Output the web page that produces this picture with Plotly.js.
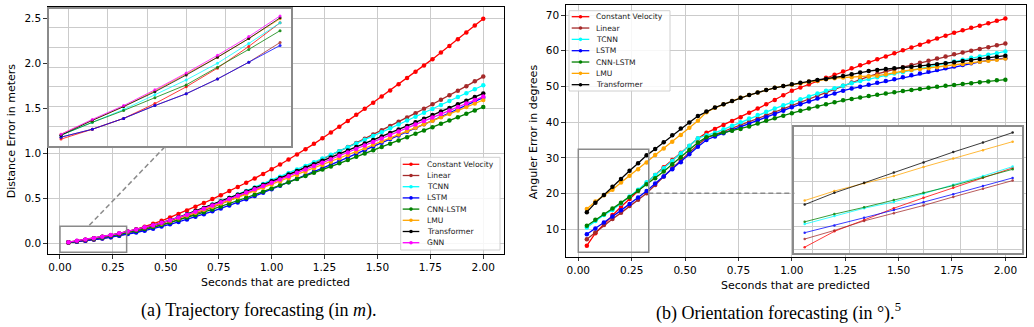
<!DOCTYPE html>
<html>
<head>
<meta charset="utf-8">
<script src="https://cdn.plot.ly/plotly-3.0.1.min.js"></script>
<style>html,body{margin:0;padding:0;background:#fff;}</style>
</head>
<body>
<div id="chart" style="width:1034px;height:327px;"></div>
<script>
// ---------------- data ----------------
const seconds = [0.04,0.08,0.12,0.16,0.20,0.24,0.28,0.32,0.36,0.40,
  0.44,0.48,0.52,0.56,0.60,0.64,0.68,0.72,0.76,0.80,
  0.84,0.88,0.92,0.96,1.00,1.04,1.08,1.12,1.16,1.20,
  1.24,1.28,1.32,1.36,1.40,1.44,1.48,1.52,1.56,1.60,
  1.64,1.68,1.72,1.76,1.80,1.84,1.88,1.92,1.96,2.00];
const insetPoints = 8; // the zoomed insets show the first 8 prediction steps

const trajNames = ['Constant Velocity','Linear','TCNN','LSTM','CNN-LSTM','LMU','Transformer','GNN'];
const orientNames = ['Constant Velocity','Linear','TCNN','LSTM','CNN-LSTM','LMU','Transformer'];
const seriesColors = ['#ff0000','#a52a2a','#00ffff','#0000ff','#008000','#ffa500','#000000','#ff00ff'];

// (a) distance error in meters
const trajCV = [0.007,0.017,0.028,0.043,0.060,0.079,0.101,0.125,0.154,0.184,
  0.216,0.250,0.287,0.325,0.365,0.406,0.448,0.491,0.535,0.580,
  0.626,0.673,0.721,0.771,0.822,0.876,0.931,0.987,1.045,1.105,
  1.167,1.230,1.294,1.360,1.427,1.494,1.562,1.630,1.698,1.767,
  1.836,1.905,1.975,2.046,2.119,2.193,2.268,2.343,2.419,2.496];
const trajLinear = [0.009,0.017,0.028,0.041,0.053,0.068,0.085,0.105,0.126,0.149,
  0.174,0.201,0.230,0.261,0.294,0.328,0.363,0.399,0.436,0.474,
  0.513,0.553,0.593,0.634,0.676,0.718,0.760,0.803,0.846,0.890,
  0.934,0.979,1.024,1.069,1.115,1.161,1.208,1.255,1.302,1.350,
  1.398,1.446,1.495,1.544,1.594,1.644,1.695,1.746,1.799,1.852];
const trajTCNN = [0.011,0.024,0.037,0.052,0.067,0.084,0.104,0.125,0.148,0.172,
  0.198,0.226,0.256,0.288,0.322,0.357,0.393,0.430,0.467,0.505,
  0.543,0.582,0.621,0.660,0.700,0.740,0.780,0.820,0.860,0.901,
  0.942,0.983,1.024,1.066,1.108,1.150,1.192,1.234,1.277,1.320,
  1.363,1.406,1.449,1.492,1.536,1.580,1.624,1.668,1.712,1.756];
const trajLSTM = [0.009,0.017,0.028,0.041,0.053,0.068,0.085,0.102,0.120,0.140,
  0.162,0.186,0.211,0.237,0.265,0.294,0.324,0.355,0.387,0.420,
  0.454,0.489,0.525,0.562,0.600,0.639,0.678,0.717,0.756,0.795,
  0.834,0.874,0.914,0.954,0.994,1.035,1.076,1.117,1.158,1.199,
  1.240,1.281,1.322,1.364,1.406,1.448,1.490,1.532,1.575,1.618];
const trajCNNLSTM = [0.011,0.024,0.036,0.049,0.062,0.080,0.098,0.117,0.137,0.158,
  0.181,0.205,0.231,0.258,0.286,0.315,0.345,0.376,0.408,0.440,
  0.473,0.506,0.540,0.574,0.609,0.644,0.679,0.714,0.749,0.784,
  0.819,0.854,0.889,0.925,0.961,0.997,1.033,1.069,1.105,1.142,
  1.179,1.216,1.253,1.290,1.327,1.364,1.401,1.438,1.476,1.514];
const trajLMU = [0.012,0.026,0.040,0.056,0.073,0.090,0.109,0.129,0.150,0.172,
  0.196,0.221,0.248,0.277,0.308,0.340,0.373,0.407,0.441,0.476,
  0.511,0.547,0.583,0.618,0.652,0.688,0.724,0.760,0.796,0.833,
  0.870,0.907,0.944,0.981,1.018,1.056,1.094,1.133,1.171,1.209,
  1.247,1.285,1.323,1.361,1.399,1.437,1.475,1.514,1.553,1.592];
const trajTransformer = [0.011,0.026,0.040,0.055,0.072,0.090,0.109,0.130,0.152,0.175,
  0.200,0.227,0.256,0.289,0.323,0.358,0.393,0.429,0.465,0.502,
  0.539,0.576,0.613,0.650,0.688,0.726,0.764,0.802,0.840,0.878,
  0.916,0.954,0.993,1.031,1.070,1.109,1.148,1.187,1.226,1.265,
  1.304,1.344,1.384,1.424,1.464,1.504,1.544,1.584,1.624,1.665];
const trajGNN = [0.012,0.027,0.041,0.057,0.074,0.092,0.111,0.132,0.154,0.177,
  0.201,0.227,0.255,0.286,0.318,0.351,0.385,0.420,0.455,0.491,
  0.527,0.563,0.600,0.636,0.672,0.709,0.746,0.783,0.820,0.858,
  0.896,0.934,0.972,1.010,1.048,1.087,1.125,1.164,1.203,1.241,
  1.280,1.319,1.358,1.397,1.436,1.475,1.514,1.553,1.592,1.630];

// (b) angular error in degrees
const orientCV = [5.4,8.9,11.4,14.0,16.3,18.5,20.8,22.9,25.2,27.4,
  29.4,31.4,33.3,35.4,37.0,38.1,39.2,40.3,41.4,42.6,
  43.8,45.0,46.2,47.5,48.8,49.7,50.6,51.5,52.4,53.3,
  54.2,55.1,55.9,56.8,57.6,58.4,59.3,60.1,60.9,61.7,
  62.6,63.4,64.2,65.0,65.7,66.4,67.0,67.7,68.4,69.0];
const orientLinear = [7.2,9.1,11.2,12.9,14.6,16.5,18.3,20.1,22.4,24.8,
  27.1,29.3,31.5,33.7,35.6,36.5,37.4,38.3,39.2,40.1,
  41.0,41.9,42.8,43.8,44.8,45.7,46.6,47.5,48.4,49.3,
  50.2,51.1,52.0,52.8,53.5,54.2,54.8,55.4,56.0,56.6,
  57.2,57.8,58.4,59.0,59.5,60.0,60.5,61.0,61.5,62.0];
const orientTCNN = [10.5,12.3,14.0,15.4,17.2,19.2,21.1,23.2,25.2,27.1,
  29.1,31.3,33.4,35.5,36.3,37.0,38.0,39.0,40.0,41.0,
  42.0,42.9,43.8,44.7,45.6,46.4,47.2,48.0,48.8,49.5,
  50.2,50.9,51.5,52.1,52.6,53.1,53.6,54.0,54.5,55.0,
  55.5,56.0,56.5,57.0,57.5,58.0,58.4,58.9,59.3,59.8];
const orientLSTM = [8.6,10.2,11.9,13.6,15.3,17.1,18.9,20.7,22.8,24.8,
  26.8,28.8,31.0,33.1,35.0,36.0,36.9,37.7,38.5,39.5,
  40.5,41.4,42.3,43.2,44.2,45.0,45.8,46.6,47.3,48.0,
  48.8,49.4,49.9,50.5,51.0,51.5,52.0,52.6,53.1,53.6,
  54.1,54.6,55.1,55.6,56.0,56.5,56.9,57.3,57.6,57.9];
const orientCNNLSTM = [11.0,12.7,14.2,15.8,17.4,19.0,20.8,22.6,24.3,26.2,
  28.2,30.2,32.2,34.3,35.8,36.5,37.1,37.6,38.1,38.8,
  39.6,40.4,41.1,41.8,42.5,43.2,43.8,44.4,45.0,45.6,
  46.1,46.5,46.9,47.3,47.7,48.0,48.4,48.7,49.0,49.3,
  49.6,49.9,50.2,50.4,50.7,50.9,51.2,51.4,51.7,51.9];
const orientLMU = [15.7,17.8,19.5,21.1,23.1,25.0,26.8,28.7,30.8,32.6,
  34.5,36.4,38.4,40.4,42.8,44.0,45.0,45.9,46.8,47.6,
  48.3,49.0,49.6,50.1,50.5,50.9,51.3,51.6,52.0,52.3,
  52.5,52.6,52.7,52.8,53.0,53.4,53.9,54.3,54.6,54.9,
  55.1,55.4,55.7,56.0,56.3,56.6,56.9,57.2,57.5,57.8];
const orientTransformer = [14.8,17.4,19.6,21.9,24.1,26.4,28.5,30.7,32.5,34.4,
  36.3,38.2,39.9,41.7,43.0,44.1,45.0,45.9,46.8,47.6,
  48.3,49.0,49.6,50.1,50.6,51.0,51.4,51.8,52.1,52.5,
  52.9,53.4,53.9,54.3,54.6,54.9,55.1,55.3,55.5,55.7,
  55.9,56.2,56.5,56.8,57.1,57.4,57.7,58.0,58.3,58.6];

const secondTicks = [0,0.25,0.5,0.75,1.0,1.25,1.5,1.75,2.0];
const secondTickLabels = ['0.00','0.25','0.50','0.75','1.00','1.25','1.50','1.75','2.00'];
const distTicks = [0,0.5,1.0,1.5,2.0,2.5];
const distTickLabels = ['0.0','0.5','1.0','1.5','2.0','2.5'];
const angleTicks = [10,20,30,40,50,60,70];
const angleTickLabels = ['10','20','30','40','50','60','70'];

const trajSeries = [trajCV,trajLinear,trajTCNN,trajLSTM,trajCNNLSTM,trajLMU,trajTransformer,trajGNN];
const orientSeries = [orientCV,orientLinear,orientTCNN,orientLSTM,orientCNNLSTM,orientLMU,orientTransformer];

// ---------------- layout helpers ----------------
const W = 1034, H = 327;
const px = v => v / W;
const py = v => 1 - v / H;
const FONT = 'DejaVu Sans';

function mk(xs, ys, i, names, xa, ya, lw, ms, op) {
  return {
    x: xs, y: ys, name: names[i], type: 'scatter', mode: 'lines+markers',
    xaxis: xa, yaxis: ya, opacity: op,
    line: {color: seriesColors[i], width: lw},
    marker: {color: seriesColors[i], size: ms, line: {width: 0}},
    showlegend: false, hoverinfo: 'skip', cliponaxis: true
  };
}

const traces = [];
const insetX = seconds.slice(0, insetPoints);
trajSeries.forEach((s, i) => traces.push(mk(seconds, s, i, trajNames, 'x', 'y', 1.3, 4.5, 1)));
orientSeries.forEach((s, i) => traces.push(mk(seconds, s, i, orientNames, 'x2', 'y2', 1.3, 4.5, 1)));
trajSeries.forEach((s, i) => traces.push(mk(insetX, s.slice(0, insetPoints), i, trajNames, 'x3', 'y3', 0.9, 3, 0.85)));
orientSeries.forEach((s, i) => traces.push(mk(insetX, s.slice(0, insetPoints), i, orientNames, 'x4', 'y4', 0.9, 2.5, 0.85)));

const mainAxis = {
  showline: true, mirror: true, linecolor: '#000', linewidth: 1,
  ticks: 'outside', ticklen: 3.5, tickwidth: 0.8, tickcolor: '#000',
  showgrid: true, gridcolor: '#cbcbcb', gridwidth: 1, zeroline: false,
  tickfont: {family: FONT, size: 10.5, color: '#000'}, tickmode: 'array'
};
const insetAxis = {
  showline: true, mirror: true, linecolor: '#8a8a8a', linewidth: 2,
  ticks: '', showticklabels: false, showgrid: true, gridcolor: '#cbcbcb',
  gridwidth: 1, zeroline: false, tickmode: 'linear', tick0: 0
};

const shapes = [];
const annotations = [];

// inset indicator rectangles and connectors
shapes.push({type: 'rect', xref: 'x', yref: 'y', x0: 0, x1: 0.315, y0: -0.1, y1: 0.19,
  line: {color: '#8a8a8a', width: 1.5}});
shapes.push({type: 'line', xref: 'paper', yref: 'paper', x0: px(89.3), y0: py(225.3), x1: px(165.7), y1: py(146),
  line: {color: '#8a8a8a', width: 1.5, dash: '5px,3px'}});
shapes.push({type: 'rect', xref: 'x2', yref: 'y2', x0: 0, x1: 0.33, y0: 3.6, y1: 32.4,
  line: {color: '#8a8a8a', width: 1.5}});
shapes.push({type: 'line', xref: 'paper', yref: 'paper', x0: px(648.3), y0: py(193.3), x1: px(794.3), y1: py(193.3),
  line: {color: '#8a8a8a', width: 1.5, dash: '5px,3px'}});

// legends drawn as layout items
function legend(names, box, lx0, lx1, tx, y0, dy) {
  shapes.push({type: 'rect', xref: 'paper', yref: 'paper', x0: px(box[0]), x1: px(box[1]), y0: py(box[3]), y1: py(box[2]),
    fillcolor: 'rgba(255,255,255,0.85)', line: {color: '#d0d0d0', width: 1}});
  names.forEach((n, i) => {
    const yc = y0 + i * dy;
    shapes.push({type: 'line', xref: 'paper', yref: 'paper', x0: px(lx0), x1: px(lx1), y0: py(yc), y1: py(yc),
      line: {color: seriesColors[i], width: 1.3}});
    const cx = (lx0 + lx1) / 2;
    shapes.push({type: 'circle', xref: 'paper', yref: 'paper', x0: px(cx - 1.8), x1: px(cx + 1.8), y0: py(yc + 1.8), y1: py(yc - 1.8),
      fillcolor: seriesColors[i], line: {width: 0}});
    annotations.push({xref: 'paper', yref: 'paper', x: px(tx), y: py(yc), xanchor: 'left', yanchor: 'middle',
      text: n, showarrow: false, font: {family: FONT, size: 7.6, color: '#222'}});
  });
}
legend(trajNames, [400.7, 500, 157.3, 250], 402.7, 419.3, 424.5, 164.3, 11.2);
legend(orientNames, [569, 670, 10.7, 91], 571.7, 589.3, 594, 16.7, 11.33);

// axis titles and captions
const ttl = {family: FONT, size: 11, color: '#000'};
annotations.push({xref: 'paper', yref: 'paper', x: px(11.7), y: py(130.5), text: 'Distance Error in meters',
  textangle: -90, showarrow: false, font: ttl, xanchor: 'center', yanchor: 'middle'});
annotations.push({xref: 'paper', yref: 'paper', x: px(275.5), y: py(282), text: 'Seconds that are predicted',
  showarrow: false, font: ttl, xanchor: 'center', yanchor: 'middle'});
annotations.push({xref: 'paper', yref: 'paper', x: px(533.3), y: py(132), text: 'Anguler Error in degrees',
  textangle: -90, showarrow: false, font: ttl, xanchor: 'center', yanchor: 'middle'});
annotations.push({xref: 'paper', yref: 'paper', x: px(795.8), y: py(285), text: 'Seconds that are predicted',
  showarrow: false, font: ttl, xanchor: 'center', yanchor: 'middle'});
const cap = {family: 'Liberation Serif', size: 18, color: '#000'};
annotations.push({xref: 'paper', yref: 'paper', x: px(258.5), y: py(310), text: '(a) Trajectory forecasting (in <i>m</i>).',
  showarrow: false, font: cap, xanchor: 'center', yanchor: 'middle'});
annotations.push({xref: 'paper', yref: 'paper', x: px(778), y: py(311.5), text: '(b) Orientation forecasting (in °).<sup>5</sup>',
  showarrow: false, font: cap, xanchor: 'center', yanchor: 'middle'});

const layout = {
  width: W, height: H, autosize: false,
  margin: {l: 0, r: 0, t: 0, b: 0, pad: 0},
  paper_bgcolor: '#fff', plot_bgcolor: '#fff',
  showlegend: false,
  xaxis: Object.assign({}, mainAxis, {domain: [px(47.7), px(504)], range: [-0.058, 2.098], anchor: 'y',
    tickvals: secondTicks, ticktext: secondTickLabels}),
  yaxis: Object.assign({}, mainAxis, {domain: [py(254), py(7.3)], range: [-0.119, 2.622], anchor: 'x',
    tickvals: distTicks, ticktext: distTickLabels}),
  xaxis2: Object.assign({}, mainAxis, {domain: [px(565.7), px(1026.3)], range: [-0.059, 2.098], anchor: 'y2',
    tickvals: secondTicks, ticktext: secondTickLabels}),
  yaxis2: Object.assign({}, mainAxis, {domain: [py(256.7), py(5)], range: [2.33, 72.8], anchor: 'x2',
    tickvals: angleTicks, ticktext: angleTickLabels}),
  xaxis3: Object.assign({}, insetAxis, {domain: [px(49.3), px(291)], range: [0.025, 0.334], anchor: 'y3', dtick: 0.05}),
  yaxis3: Object.assign({}, insetAxis, {domain: [py(146), py(9)], range: [0, 0.139], anchor: 'x3', dtick: 0.02}),
  xaxis4: Object.assign({}, insetAxis, {domain: [px(794.3), px(1022.3)], range: [0.026, 0.333], anchor: 'y4', dtick: 0.05}),
  yaxis4: Object.assign({}, insetAxis, {domain: [py(253.3), py(126.7)], range: [4.05, 32.0], anchor: 'x4', dtick: 5}),
  shapes: shapes,
  annotations: annotations
};

Plotly.newPlot('chart', traces, layout, {staticPlot: true, displayModeBar: false});
</script>
</body>
</html>
